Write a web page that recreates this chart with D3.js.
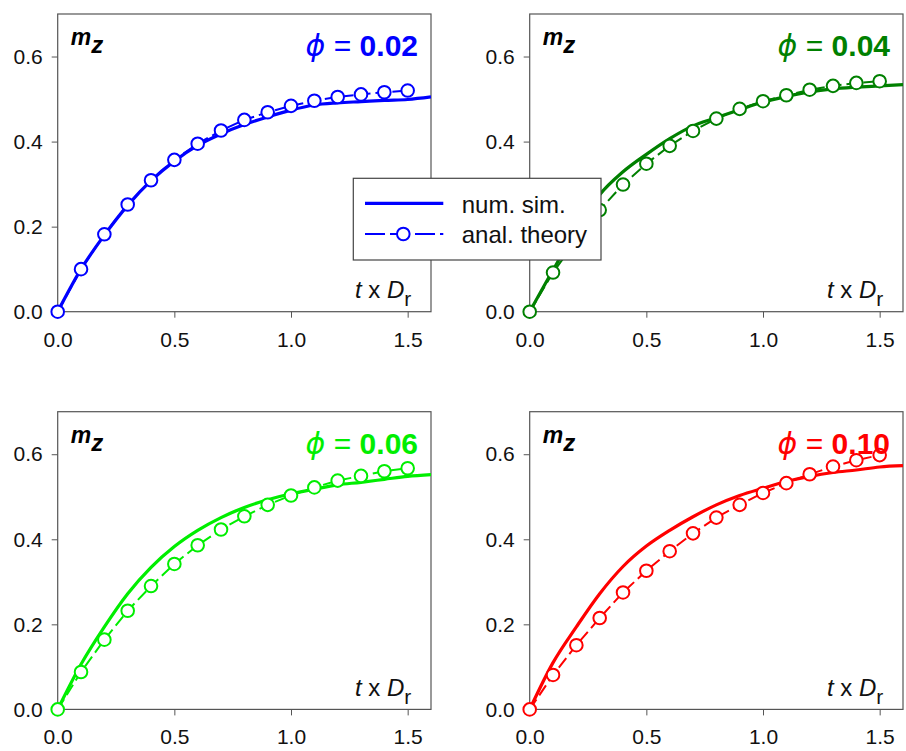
<!DOCTYPE html>
<html>
<head>
<meta charset="utf-8">
<script src="https://cdn.jsdelivr.net/npm/d3@7"></script>
<style>
  body { margin: 0; background: #fff; }
  svg text { font-family: "Liberation Sans", Arial, Helvetica, sans-serif; }
</style>
</head>
<body>
<svg id="chart" width="906" height="751"></svg>
<script>
// time axis values (t x Dr)
const tTheory = [0, 0.1, 0.2, 0.3, 0.4, 0.5, 0.6, 0.7, 0.8, 0.9, 1.0, 1.1, 1.2, 1.3, 1.4, 1.5];
const tSim = [0, 0.1, 0.2, 0.3, 0.4, 0.5, 0.6, 0.7, 0.8, 0.9, 1.0, 1.1, 1.2, 1.3, 1.4, 1.5, 1.6];

const xTicks = [0, 0.5, 1.0, 1.5];
const yTicks = [0, 0.2, 0.4, 0.6];

const phiLabels = ["0.02", "0.04", "0.06", "0.10"];
const colors = ["#0000ff", "#008000", "#00ee00", "#ff0000"];

// analytical theory (circles)
const theory002 = [0, 0.100, 0.182, 0.252, 0.309, 0.357, 0.395, 0.426, 0.451, 0.469, 0.484, 0.496, 0.505, 0.511, 0.516, 0.520];
const theory004 = [0, 0.092, 0.168, 0.239, 0.299, 0.348, 0.390, 0.425, 0.454, 0.477, 0.495, 0.509, 0.522, 0.531, 0.538, 0.542];
const theory006 = [0, 0.088, 0.164, 0.232, 0.290, 0.342, 0.386, 0.423, 0.454, 0.481, 0.503, 0.522, 0.538, 0.549, 0.560, 0.567];
const theory010 = [0, 0.081, 0.151, 0.215, 0.275, 0.326, 0.372, 0.414, 0.451, 0.481, 0.509, 0.532, 0.553, 0.571, 0.586, 0.598];

// numerical simulation (solid)
const sim002 = [0, 0.100, 0.180, 0.250, 0.308, 0.354, 0.391, 0.418, 0.440, 0.458, 0.474, 0.486, 0.491, 0.494, 0.497, 0.499, 0.505];
const sim004 = [0, 0.098, 0.192, 0.275, 0.329, 0.370, 0.407, 0.437, 0.456, 0.475, 0.493, 0.506, 0.517, 0.524, 0.528, 0.531, 0.534];
const sim006 = [0, 0.106, 0.194, 0.272, 0.334, 0.383, 0.421, 0.451, 0.475, 0.493, 0.507, 0.518, 0.528, 0.534, 0.541, 0.548, 0.552];
const sim010 = [0, 0.110, 0.194, 0.272, 0.336, 0.384, 0.421, 0.453, 0.481, 0.503, 0.520, 0.536, 0.548, 0.557, 0.563, 0.570, 0.573];

const theories = [theory002, theory004, theory006, theory010];
const sims = [sim002, sim004, sim006, sim010];

const svg = d3.select("#chart");

const panelW = 373.3, panelH = 297.7;
const lefts = [57.7, 529.7];
const tops = [14, 411.7];

const x = d3.scaleLinear().domain([0, 1.6]).range([0, panelW]);
const y = d3.scaleLinear().domain([0, 0.7]).range([panelH, 0]);

const simLine = d3.line()
  .x((d, i) => x(tSim[i]))
  .y(d => y(d))
  .curve(d3.curveMonotoneX);

const theoryLine = d3.line()
  .x((d, i) => x(tTheory[i]))
  .y(d => y(d));

phiLabels.forEach((lab, k) => {
  const col = colors[k];
  const g = svg.append("g")
    .attr("transform", `translate(${lefts[k % 2]},${tops[Math.floor(k / 2)]})`);

  // axes
  const xa = g.append("g")
    .attr("transform", `translate(0,${panelH})`)
    .call(d3.axisBottom(x).tickValues(xTicks).tickFormat(d3.format(".1f")).tickSize(6).tickSizeOuter(0).tickPadding(14));
  const ya = g.append("g")
    .call(d3.axisLeft(y).tickValues(yTicks).tickFormat(d3.format(".1f")).tickSize(6).tickSizeOuter(0).tickPadding(9));
  [xa, ya].forEach(a => {
    a.select(".domain").remove();
    a.selectAll("line").attr("stroke", "#555");
    a.selectAll("text").attr("font-size", 21).attr("fill", "#111")
      .style("font-family", '"Liberation Sans", Arial, sans-serif');
  });

  g.append("rect")
    .attr("width", panelW).attr("height", panelH)
    .attr("fill", "none").attr("stroke", "#555").attr("stroke-width", 1.2);

  const clip = "clip" + k;
  g.append("clipPath").attr("id", clip)
    .append("rect").attr("x", -8).attr("y", -8).attr("width", panelW + 8).attr("height", panelH + 16);

  const plot = g.append("g").attr("clip-path", `url(#${clip})`);

  plot.append("path")
    .attr("d", simLine(sims[k]))
    .attr("fill", "none").attr("stroke", col).attr("stroke-width", 3.2);

  plot.append("path")
    .attr("d", theoryLine(theories[k]))
    .attr("fill", "none").attr("stroke", col).attr("stroke-width", 2)
    .attr("stroke-dasharray", "12,5");

  plot.selectAll("circle")
    .data(theories[k])
    .join("circle")
    .attr("cx", (d, i) => x(tTheory[i]))
    .attr("cy", d => y(d))
    .attr("r", 6.3)
    .attr("fill", "#fff").attr("stroke", col).attr("stroke-width", 2);

  // m_z
  const mz = g.append("text")
    .attr("x", 13).attr("y", 31)
    .attr("font-size", 23).attr("font-weight", "bold").attr("font-style", "italic").attr("fill", "#000");
  mz.append("tspan").text("m");
  mz.append("tspan").attr("dy", 8).attr("font-size", 24).text("z");

  // phi label
  const ph = g.append("text")
    .attr("x", panelW - 13).attr("y", 42)
    .attr("text-anchor", "end").attr("font-size", 30).attr("fill", col);
  ph.append("tspan").attr("font-style", "italic").style("font-family", '"DejaVu Sans", sans-serif').text("\u03d5");
  ph.append("tspan").text(" = ");
  ph.append("tspan").attr("font-weight", "bold").text(lab);

  // t x Dr
  const tl = g.append("text")
    .attr("x", panelW - 76).attr("y", panelH - 13.4)
    .attr("font-size", 24).attr("fill", "#111");
  tl.append("tspan").attr("font-style", "italic").text("t");
  tl.append("tspan").text(" x ");
  tl.append("tspan").attr("font-style", "italic").text("D");
  tl.append("tspan").attr("dy", 8).attr("font-size", 21).text("r");
});

// legend
const leg = svg.append("g");
leg.append("rect")
  .attr("x", 353.3).attr("y", 178.3).attr("width", 247.7).attr("height", 81.7)
  .attr("fill", "#fff").attr("stroke", "#444").attr("stroke-width", 1.2);

leg.append("line")
  .attr("x1", 365).attr("x2", 443.3).attr("y1", 203.3).attr("y2", 203.3)
  .attr("stroke", colors[0]).attr("stroke-width", 3.2);
leg.append("line")
  .attr("x1", 365).attr("x2", 443.3).attr("y1", 234).attr("y2", 234)
  .attr("stroke", colors[0]).attr("stroke-width", 2).attr("stroke-dasharray", "20,5");
leg.append("circle")
  .attr("cx", 403.3).attr("cy", 234).attr("r", 6.3)
  .attr("fill", "#fff").attr("stroke", colors[0]).attr("stroke-width", 2);

leg.append("text").attr("x", 461.7).attr("y", 212.5)
  .attr("font-size", 24).attr("fill", "#111").text("num. sim.");
leg.append("text").attr("x", 461.7).attr("y", 243)
  .attr("font-size", 24).attr("fill", "#111").text("anal. theory");
</script>
</body>
</html>
